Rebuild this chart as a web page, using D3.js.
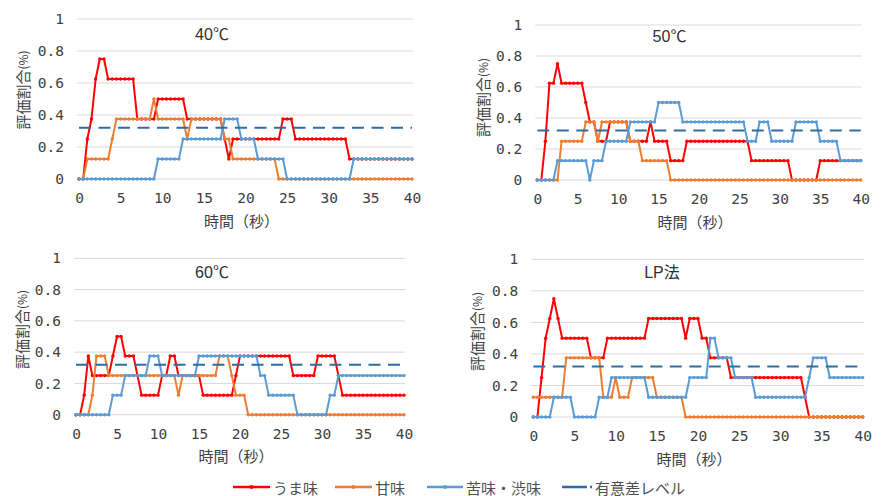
<!DOCTYPE html>
<html lang="ja">
<head>
<meta charset="UTF-8">
<title>評価割合の時間変化</title>
<script src="https://d3js.org/d3.v7.min.js"></script>
<style>
    body { margin: 0; background: #fff; }
    svg { display: block; background: #fff; }
    .grid { stroke: #d9d9d9; stroke-width: 1px; }
    .axis text { font-family: "DejaVu Sans Mono", monospace; font-size: 14.5px; fill: #404040; }
    .ptitle { font-family: "Liberation Sans", "Noto Sans CJK JP", sans-serif; font-size: 16px; fill: #303030; }
    .atitle { font-family: "Noto Sans CJK JP", sans-serif; font-size: 15px; fill: #404040; }
    .legend text { font-family: "Noto Sans CJK JP", sans-serif; font-size: 15px; fill: #505050; }
</style>
</head>
<body>
<svg id="chart" width="884" height="496"></svg>
<script>
    // sampling times (s)
    const times = [0,0.5,1,1.5,2,2.5,3,3.5,4,4.5,5,5.5,6,6.5,7,7.5,8,8.5,9,9.5,
                   10,10.5,11,11.5,12,12.5,13,13.5,14,14.5,15,15.5,16,16.5,17,17.5,18,18.5,19,19.5,
                   20,20.5,21,21.5,22,22.5,23,23.5,24,24.5,25,25.5,26,26.5,27,27.5,28,28.5,29,29.5,
                   30,30.5,31,31.5,32,32.5,33,33.5,34,34.5,35,35.5,36,36.5,37,37.5,38,38.5,39,39.5,40];

    const seriesNames = ["うま味", "甘味", "苦味・渋味"];
    const levelName = "有意差レベル";
    const sigLevel = 0.32;
    const panelTitles = ["40℃", "50℃", "60℃", "LP法"];
    const xTicks = [0, 5, 10, 15, 20, 25, 30, 35, 40];
    const yTicks = [0, 0.2, 0.4, 0.6, 0.8, 1];

    // 40℃
    const umami40 = [0,0,.25,.375,.625,.75,.75,
        .625,.625,.625,.625,.625,.625,.625,
        .375,.375,.375,.375,.375,
        .5,.5,.5,.5,.5,.5,.5,
        .375,.375,.375,.375,.375,.375,.375,.375,.375,
        .25,.125,
        .25,.25,.25,.25,.25,.25,.25,.25,.25,.25,.25,.25,
        .375,.375,.375,
        .25,.25,.25,.25,.25,.25,.25,.25,.25,.25,.25,.25,.25,
        .125,.125,.125,.125,.125,.125,.125,.125,.125,.125,.125,.125,.125,.125,.125,.125];
    const sweet40 = [0,0,
        .125,.125,.125,.125,.125,.125,
        .25,
        .375,.375,.375,.375,.375,.375,.375,.375,.375,
        .5,
        .375,.375,.375,.375,.375,.375,.375,
        .25,
        .375,.375,.375,.375,.375,.375,.375,.375,
        .25,.25,
        .125,.125,.125,.125,.125,.125,.125,.125,.125,.125,.125,
        0,0,0,0,0,0,0,0,0,0,0,
        0,0,0,0,0,0,0,0,0,0,0,
        0,0,0,0,0,0,0,0,0,0,0];
    const bitter40 = [0,0,0,0,0,0,0,0,0,0,0,0,0,0,0,0,0,0,0,
        .125,.125,.125,.125,.125,.125,
        .25,.25,.25,.25,.25,.25,.25,.25,.25,.25,
        .375,.375,.375,.375,
        .25,.25,.25,.25,
        .125,.125,.125,.125,.125,.125,.125,
        0,0,0,0,0,0,0,0,0,0,0,0,0,0,0,0,
        .125,.125,.125,.125,.125,.125,.125,.125,.125,.125,.125,.125,.125,.125,.125];

    // 50℃
    const umami50 = [0,0,.25,.625,.625,.75,
        .625,.625,.625,.625,.625,.625,
        .5,
        .375,.375,
        .25,.25,.25,
        .375,.375,.375,.375,.375,
        .25,.25,.25,.25,.25,
        .375,
        .25,.25,.25,.25,
        .125,.125,.125,.125,
        .25,.25,.25,.25,.25,.25,.25,.25,.25,.25,.25,.25,.25,.25,.25,.25,
        .125,.125,.125,.125,.125,.125,.125,.125,.125,.125,
        0,0,0,0,0,0,0,
        .125,.125,.125,.125,.125,.125,.125,.125,.125,.125,.125];
    const sweet50 = [0,0,0,0,0,0,
        .25,.25,.25,.25,.25,.25,
        .375,.375,.375,
        .25,
        .375,.375,.375,.375,.375,.375,.375,
        .25,.25,.25,
        .125,.125,.125,.125,.125,.125,.125,
        0,0,0,0,0,0,0,0,0,0,0,0,
        0,0,0,0,0,0,0,0,0,0,0,0,
        0,0,0,0,0,0,0,0,0,0,0,0,
        0,0,0,0,0,0,0,0,0,0,0,0];
    const bitter50 = [0,0,0,0,0,
        .125,.125,.125,.125,.125,.125,.125,.125,
        0,
        .125,.125,.125,
        .25,.25,.25,.25,.25,.25,
        .375,.375,.375,.375,.375,.375,.375,
        .5,.5,.5,.5,.5,.5,
        .375,.375,.375,.375,.375,.375,.375,.375,.375,.375,.375,.375,.375,.375,.375,.375,
        .25,.25,.25,
        .375,.375,.375,
        .25,.25,.25,.25,.25,.25,
        .375,.375,.375,.375,.375,.375,
        .25,.25,.25,.25,.25,
        .125,.125,.125,.125,.125,.125];

    // 60℃
    const umami60 = [0,0,.125,.375,
        .25,.25,.25,.25,.25,
        .375,
        .5,.5,
        .375,.375,.375,
        .25,
        .125,.125,.125,.125,.125,
        .25,.25,
        .375,.375,
        .25,.25,.25,.25,.25,.25,
        .125,.125,.125,.125,.125,.125,.125,.125,
        .25,
        .375,.375,.375,.375,.375,.375,.375,.375,.375,.375,.375,.375,.375,
        .25,.25,.25,.25,.25,.25,
        .375,.375,.375,.375,.375,
        .25,
        .125,.125,.125,.125,.125,.125,.125,.125,.125,.125,.125,.125,.125,.125,.125,.125];
    const sweet60 = [0,0,0,0,
        .125,
        .375,.375,.375,
        .25,.25,.25,.25,.25,.25,.25,.25,.25,.25,.25,.25,.25,.25,.25,.25,.25,
        .125,
        .25,.25,.25,.25,.25,.25,.25,.25,.25,
        .375,.375,.375,
        .25,
        .125,.125,.125,
        0,0,0,0,0,0,0,0,0,0,0,0,0,
        0,0,0,0,0,0,0,0,0,0,0,0,0,
        0,0,0,0,0,0,0,0,0,0,0,0,0];
    const bitter60 = [0,0,0,0,0,0,0,0,0,
        .125,.125,.125,
        .25,.25,.25,.25,.25,.25,
        .375,.375,.375,
        .25,.25,.25,.25,.25,.25,.25,.25,.25,
        .375,.375,.375,.375,.375,.375,.375,.375,.375,.375,.375,.375,.375,.375,.375,
        .25,.25,
        .125,.125,.125,.125,.125,.125,.125,
        0,0,0,0,0,0,0,0,
        .125,.125,
        .25,.25,.25,.25,.25,.25,.25,.25,.25,.25,.25,.25,.25,.25,.25,.25,.25];

    // LP法
    const umamiLP = [0,0,.25,.5,.625,.75,.625,
        .5,.5,.5,.5,.5,.5,.5,
        .375,.375,.375,.375,
        .5,.5,.5,.5,.5,.5,.5,.5,.5,.5,
        .625,.625,.625,.625,.625,.625,.625,.625,.625,
        .5,
        .625,.625,.625,
        .5,.5,
        .375,.375,.375,.375,.375,
        .25,.25,.25,.25,.25,.25,.25,.25,.25,.25,.25,.25,.25,.25,.25,.25,.25,.25,
        .125,
        0,0,0,0,0,0,0,0,0,0,0,0,0,0];
    const sweetLP = [.125,.125,.125,.125,.125,.125,.125,.125,
        .375,.375,.375,.375,.375,.375,.375,.375,.375,
        .125,.125,.125,
        .25,
        .125,.125,.125,
        .25,.25,.25,.25,.25,.25,
        .125,.125,.125,.125,.125,.125,.125,
        0,0,0,0,0,0,0,0,0,0,0,
        0,0,0,0,0,0,0,0,0,0,0,
        0,0,0,0,0,0,0,0,0,0,0,
        0,0,0,0,0,0,0,0,0,0,0];
    const bitterLP = [0,0,0,0,0,
        .125,.125,.125,.125,.125,
        0,0,0,0,0,0,
        .125,.125,.125,
        .25,.25,.25,.25,.25,.25,.25,.25,.25,
        .125,.125,.125,.125,.125,.125,.125,.125,.125,.125,
        .25,.25,.25,.25,.25,
        .5,.5,
        .375,.375,.375,.375,
        .25,.25,.25,.25,.25,
        .125,.125,.125,.125,.125,.125,.125,.125,.125,.125,.125,.125,.125,
        .25,
        .375,.375,.375,.375,
        .25,.25,.25,.25,.25,.25,.25,.25,.25];

    const colors = ["#ff0000", "#ed7d31", "#5b9bd5"];
    const levelColor = "#2e6ca4";

    // panel layout (pixel frame of each plot)
    const panels = [
      { title: panelTitles[0], series: [umami40, sweet40, bitter40], x0: 79,    x1: 412,   top: 19,    bottom: 179,   tx: 212,   ty: 34,    yx: 22,    yy: 90 },
      { title: panelTitles[1], series: [umami50, sweet50, bitter50], x0: 537.3, x1: 860.7, top: 25,    bottom: 180,   tx: 669.5, ty: 36,    yx: 482,   yy: 97.5 },
      { title: panelTitles[2], series: [umami60, sweet60, bitter60], x0: 76,    x1: 404,   top: 258.3, bottom: 414.7, tx: 212,   ty: 272.5, yx: 21,    yy: 329.5 },
      { title: panelTitles[3], series: [umamiLP, sweetLP, bitterLP], x0: 533.3, x1: 862.7, top: 259.3, bottom: 417,   tx: 662,   ty: 272,   yx: 475.5, yy: 331.5 }
    ];

    panels.forEach(p => p.series.forEach((s, k) => {
      if (s.length !== times.length) throw new Error(p.title + " " + seriesNames[k] + " has " + s.length);
    }));

    const svg = d3.select("#chart");

    panels.forEach(p => {
      const x = d3.scaleLinear().domain([0, 40]).range([p.x0, p.x1]);
      const y = d3.scaleLinear().domain([0, 1]).range([p.bottom, p.top]);
      const g = svg.append("g");

      // grid
      g.selectAll(".grid")
        .data(yTicks)
        .join("line")
        .attr("class", "grid")
        .attr("x1", p.x0 - 2)
        .attr("x2", p.x1 + 1)
        .attr("y1", d => y(d))
        .attr("y2", d => y(d));

      // axes
      g.append("g")
        .attr("class", "axis")
        .attr("transform", `translate(${p.x0},0)`)
        .call(d3.axisLeft(y).tickValues(yTicks).tickSize(0).tickPadding(15)
          .tickFormat(d => (d === 0 || d === 1) ? String(d) : d.toFixed(1)))
        .call(a => a.select(".domain").remove());

      g.append("g")
        .attr("class", "axis")
        .attr("transform", `translate(0,${p.bottom})`)
        .call(d3.axisBottom(x).tickValues(xTicks).tickSize(0).tickPadding(14))
        .call(a => a.select(".domain").remove());

      // series
      const line = d3.line()
        .x((d, i) => x(times[i]))
        .y(d => y(d));

      p.series.forEach((vals, k) => {
        g.append("path")
          .datum(vals)
          .attr("fill", "none")
          .attr("stroke", colors[k])
          .attr("stroke-width", 2)
          .attr("stroke-linejoin", "round")
          .attr("d", line);
        g.selectAll(".pt" + k)
          .data(vals)
          .join("circle")
          .attr("class", "pt" + k)
          .attr("cx", (d, i) => x(times[i]))
          .attr("cy", d => y(d))
          .attr("r", 1.7)
          .attr("fill", colors[k]);
      });

      // significance level
      g.append("line")
        .attr("x1", x(0))
        .attr("x2", x(40))
        .attr("y1", y(sigLevel))
        .attr("y2", y(sigLevel))
        .attr("stroke", levelColor)
        .attr("stroke-width", 2)
        .attr("stroke-dasharray", "12,7.5");

      // titles
      g.append("text")
        .attr("class", "ptitle")
        .attr("x", p.tx)
        .attr("y", p.ty)
        .attr("text-anchor", "middle")
        .attr("dominant-baseline", "central")
        .text(p.title);

      g.append("text")
        .attr("class", "atitle")
        .attr("x", (p.x0 + p.x1) / 2 - 4)
        .attr("y", p.bottom + 41)
        .attr("text-anchor", "middle")
        .attr("dominant-baseline", "central")
        .text("時間（秒）");

      const yt = g.append("text")
        .attr("class", "atitle")
        .attr("transform", `translate(${p.yx},${p.yy}) rotate(-90)`)
        .attr("text-anchor", "middle")
        .attr("dominant-baseline", "central");
      yt.append("tspan").text("評価割合");
      yt.append("tspan").attr("font-size", 12).text("(%)");
    });

    // legend
    const legendY = 487;
    const legendItems = [
      { name: seriesNames[0], color: colors[0], x: 233, w: 37, dash: null, marker: true },
      { name: seriesNames[1], color: colors[1], x: 335, w: 37, dash: null, marker: true },
      { name: seriesNames[2], color: colors[2], x: 427, w: 36, dash: null, marker: true },
      { name: levelName,      color: levelColor, x: 562, w: 30, dash: "25,3", marker: false }
    ];
    const lg = svg.append("g").attr("class", "legend");
    legendItems.forEach(it => {
      lg.append("line")
        .attr("x1", it.x)
        .attr("x2", it.x + it.w)
        .attr("y1", legendY)
        .attr("y2", legendY)
        .attr("stroke", it.color)
        .attr("stroke-width", 2.5)
        .attr("stroke-dasharray", it.dash);
      if (it.marker) {
        lg.append("circle")
          .attr("cx", it.x + it.w / 2)
          .attr("cy", legendY)
          .attr("r", 2)
          .attr("fill", it.color);
      }
      lg.append("text")
        .attr("x", it.x + it.w + 3)
        .attr("y", legendY)
        .attr("dominant-baseline", "central")
        .text(it.name);
    });
</script>
</body>
</html>
